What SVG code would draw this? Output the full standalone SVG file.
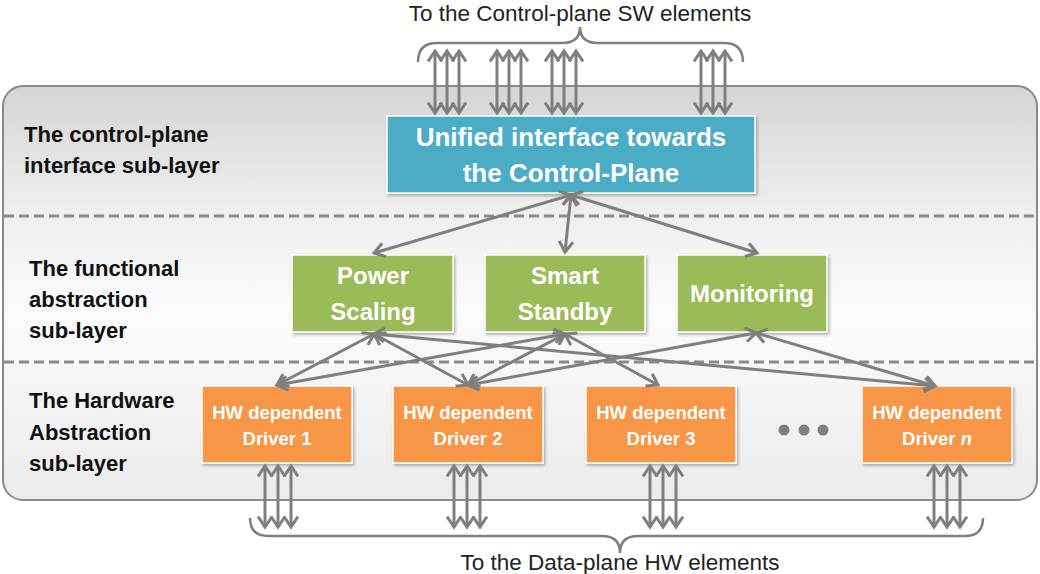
<svg xmlns="http://www.w3.org/2000/svg" width="1040" height="574" viewBox="0 0 1040 574">
<defs>
<linearGradient id="bg" x1="0" y1="0" x2="0" y2="1">
<stop offset="0" stop-color="#d5d5d5"/>
<stop offset="0.3" stop-color="#eeeeee"/>
<stop offset="0.55" stop-color="#fbfbfb"/>
<stop offset="1" stop-color="#ebebeb"/>
</linearGradient>
<filter id="sh" x="-10%" y="-10%" width="125%" height="130%">
<feDropShadow dx="1.5" dy="2" stdDeviation="1.5" flood-color="#000" flood-opacity="0.3"/>
</filter>
<marker id="ah" viewBox="0 0 16 16" refX="13" refY="8" markerWidth="16" markerHeight="16" markerUnits="userSpaceOnUse" orient="auto-start-reverse">
<path d="M2.5,1 L13,8 L2.5,15" fill="none" stroke="#7f7f7f" stroke-width="3"/>
</marker>
</defs>
<style>
.lbl{font-family:"Liberation Sans",Arial,sans-serif;font-weight:bold;font-size:22px;fill:#111}
.cap{font-family:"Liberation Sans",Arial,sans-serif;font-size:22.5px;fill:#222}
.bt{font-family:"Liberation Sans",Arial,sans-serif;font-weight:bold;fill:#fff;text-anchor:middle}
.box{stroke:#fff;stroke-width:1.5;filter:url(#sh)}
.con{stroke:#7f7f7f;stroke-width:3;fill:none;marker-start:url(#ah);marker-end:url(#ah)}
.brace{stroke:#7f7f7f;stroke-width:2.5;fill:none}
.dash{stroke:#8a8a8a;stroke-width:3;stroke-dasharray:10 5}
</style>
<rect x="0" y="0" width="1040" height="574" fill="#fff"/>

<g id="container">
<rect x="3" y="86" width="1034" height="414" rx="20" ry="20" fill="url(#bg)" stroke="#8a8a8a" stroke-width="2"/>
<line class="dash" x1="4" y1="216" x2="1036" y2="216"/>
<line class="dash" x1="4" y1="362" x2="1036" y2="362"/>
</g>

<g id="layer-labels">
<text class="lbl" x="24" y="142">The control-plane</text>
<text class="lbl" x="24" y="173">interface sub-layer</text>
<text class="lbl" x="29" y="276">The functional</text>
<text class="lbl" x="29" y="307">abstraction</text>
<text class="lbl" x="29" y="338">sub-layer</text>
<text class="lbl" x="29" y="408">The Hardware</text>
<text class="lbl" x="29" y="440">Abstraction</text>
<text class="lbl" x="29" y="471">sub-layer</text>
</g>

<g id="top-brace">
<path class="brace" d="M418,62 Q418,43 437,43 L562,43 Q580,43 580,27 Q580,43 598,43 L724,43 Q743,43 743,62"/>
<text class="cap" x="580" y="21" text-anchor="middle">To the Control-plane SW elements</text>
</g>

<g id="bottom-brace">
<path class="brace" d="M250,518 Q250,536 268,536 L602,536 Q620,536 620,553 Q620,536 638,536 L965,536 Q983,536 983,518"/>
<text class="cap" x="620" y="570" text-anchor="middle">To the Data-plane HW elements</text>
</g>

<g id="unified">
<rect class="box" x="387" y="116" width="368" height="77" fill="#4bacc6"/>
<text class="bt" x="571" y="146" font-size="26">Unified interface towards</text>
<text class="bt" x="571" y="182" font-size="26">the Control-Plane</text>
</g>

<g id="power-scaling">
<rect class="box" x="292" y="255" width="161" height="77" fill="#9bbb59"/>
<text class="bt" x="373" y="284" font-size="24">Power</text>
<text class="bt" x="373" y="320" font-size="24">Scaling</text>
</g>
<g id="smart-standby">
<rect class="box" x="485" y="255" width="160" height="77" fill="#9bbb59"/>
<text class="bt" x="565" y="284" font-size="24">Smart</text>
<text class="bt" x="565" y="320" font-size="24">Standby</text>
</g>
<g id="monitoring">
<rect class="box" x="677" y="255" width="150" height="77" fill="#9bbb59"/>
<text class="bt" x="752" y="302" font-size="24">Monitoring</text>
</g>

<g id="driver-1">
<rect class="box" x="202" y="386" width="150" height="77" fill="#f79646"/>
<text class="bt" x="277" y="419" font-size="18.5">HW dependent</text>
<text class="bt" x="277" y="445" font-size="18.5">Driver 1</text>
</g>
<g id="driver-2">
<rect class="box" x="393" y="386" width="150" height="77" fill="#f79646"/>
<text class="bt" x="468" y="419" font-size="18.5">HW dependent</text>
<text class="bt" x="468" y="445" font-size="18.5">Driver 2</text>
</g>
<g id="driver-3">
<rect class="box" x="586" y="386" width="150" height="77" fill="#f79646"/>
<text class="bt" x="661" y="419" font-size="18.5">HW dependent</text>
<text class="bt" x="661" y="445" font-size="18.5">Driver 3</text>
</g>
<g id="ellipsis">
<circle cx="784" cy="430" r="5.5" fill="#7f7f7f"/>
<circle cx="804" cy="430" r="5.5" fill="#7f7f7f"/>
<circle cx="823" cy="430" r="5.5" fill="#7f7f7f"/>
</g>
<g id="driver-n">
<rect class="box" x="862" y="386" width="150" height="77" fill="#f79646"/>
<text class="bt" x="937" y="419" font-size="18.5">HW dependent</text>
<text class="bt" x="937" y="445" font-size="18.5">Driver <tspan font-style="italic">n</tspan></text>
</g>

<g id="connectors">
<line class="con" x1="435" y1="51" x2="435" y2="113"/>
<line class="con" x1="447" y1="51" x2="447" y2="113"/>
<line class="con" x1="459" y1="51" x2="459" y2="113"/>
<line class="con" x1="497" y1="51" x2="497" y2="113"/>
<line class="con" x1="509" y1="51" x2="509" y2="113"/>
<line class="con" x1="521" y1="51" x2="521" y2="113"/>
<line class="con" x1="552" y1="51" x2="552" y2="113"/>
<line class="con" x1="564" y1="51" x2="564" y2="113"/>
<line class="con" x1="576" y1="51" x2="576" y2="113"/>
<line class="con" x1="701" y1="51" x2="701" y2="113"/>
<line class="con" x1="713" y1="51" x2="713" y2="113"/>
<line class="con" x1="725" y1="51" x2="725" y2="113"/>
<line class="con" x1="571" y1="195" x2="374" y2="253"/>
<line class="con" x1="571" y1="195" x2="565" y2="252"/>
<line class="con" x1="571" y1="195" x2="757" y2="253"/>
<line class="con" x1="374" y1="334" x2="277" y2="385"/>
<line class="con" x1="374" y1="334" x2="468" y2="385"/>
<line class="con" x1="374" y1="334" x2="935" y2="386"/>
<line class="con" x1="565" y1="334" x2="277" y2="385"/>
<line class="con" x1="565" y1="334" x2="468" y2="385"/>
<line class="con" x1="565" y1="334" x2="658" y2="385"/>
<line class="con" x1="756" y1="333" x2="468" y2="385"/>
<line class="con" x1="756" y1="333" x2="935" y2="386"/>
<line class="con" x1="265" y1="466" x2="265" y2="527"/>
<line class="con" x1="278" y1="466" x2="278" y2="527"/>
<line class="con" x1="291" y1="466" x2="291" y2="527"/>
<line class="con" x1="454" y1="466" x2="454" y2="527"/>
<line class="con" x1="467" y1="466" x2="467" y2="527"/>
<line class="con" x1="480" y1="466" x2="480" y2="527"/>
<line class="con" x1="650" y1="466" x2="650" y2="527"/>
<line class="con" x1="663" y1="466" x2="663" y2="527"/>
<line class="con" x1="676" y1="466" x2="676" y2="527"/>
<line class="con" x1="934" y1="466" x2="934" y2="527"/>
<line class="con" x1="947" y1="466" x2="947" y2="527"/>
<line class="con" x1="960" y1="466" x2="960" y2="527"/>
</g>
</svg>
